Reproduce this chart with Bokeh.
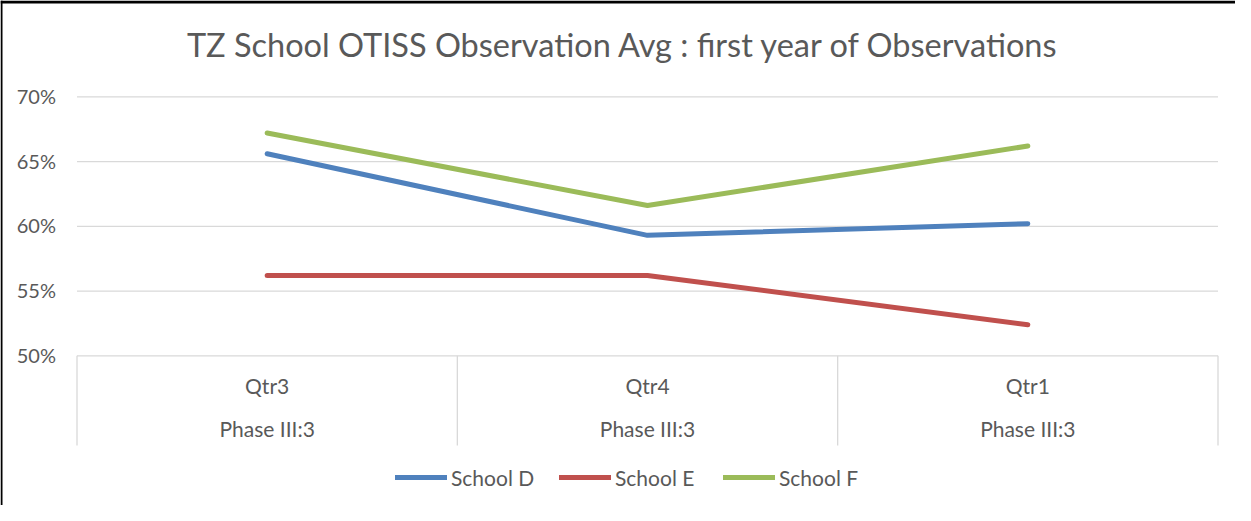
from bokeh.plotting import figure
from bokeh.models import Range1d, Legend, LegendItem
from bokeh.core.properties import value
from bokeh.embed import file_html
from bokeh.resources import INLINE

# ---------------- data ----------------
title_text = "TZ School  OTISS Observation Avg : first year of Observations"
quarters = ["Qtr3", "Qtr4", "Qtr1"]
phases = ["Phase III:3", "Phase III:3", "Phase III:3"]
series_names = ["School D", "School E", "School F"]
school_d = [0.656, 0.593, 0.602]
school_e = [0.562, 0.562, 0.524]
school_f = [0.672, 0.616, 0.662]
y_ticks = [0.50, 0.55, 0.60, 0.65, 0.70]
tick_labels = ["50%", "55%", "60%", "65%", "70%"]

# ---------------- layout (pixels) ----------------
W, H = 1235, 505
PL, PR = 76.5, 1217.5        # plot area left / right in figure px
Y_BASE = 355.3               # figure px (from top) of lowest tick
PX_PER_UNIT_Y = 1295.0       # px per 1.0 of value
n = len(quarters)
sx = (PR - PL) / n
sy = PX_PER_UNIT_Y
x_start = -PL / sx
x_end = n + (W - PR) / sx
y_base = y_ticks[0]
y_start = y_base - (H - Y_BASE) / sy
y_end = y_base + Y_BASE / sy


def X(px):
    return x_start + px / sx


def Y(py):
    return y_end - py / sy


FONT_NAME = "Lato"
FONT = value(FONT_NAME)
TXT = "#595959"
GRID = "#D9D9D9"
colors = ["#4F81BD", "#C0504D", "#9BBB59"]

p = figure(width=W, height=H, output_backend="svg", toolbar_location=None,
           x_axis_location=None, y_axis_location=None,
           x_range=Range1d(x_start, x_end), y_range=Range1d(y_start, y_end),
           min_border=0, outline_line_color=None,
           background_fill_color="white", border_fill_color="white")
p.grid.visible = False

# outer border (left and top)
p.segment(x0=[X(1)], y0=[Y(0)], x1=[X(1)], y1=[Y(H)], line_color="black", line_width=2)
p.segment(x0=[X(0)], y0=[Y(1.5)], x1=[X(W)], y1=[Y(1.5)], line_color="black", line_width=3)

# title
p.text(x=[X(627)], y=[Y(44)], text=[title_text], text_align="center",
       text_baseline="middle", text_font=FONT, text_font_size="32.5px",
       text_color=TXT)

# horizontal gridlines
p.segment(x0=[0] * len(y_ticks), x1=[n] * len(y_ticks), y0=y_ticks, y1=y_ticks,
          line_color=GRID, line_width=1.3)

# y tick labels
p.text(x=[X(55.5)] * len(y_ticks), y=y_ticks, text=tick_labels, text_align="right",
       text_baseline="middle", y_offset=-1, text_font=FONT,
       text_font_size="20px", text_color=TXT)

# category separators
sep_x = list(range(n + 1))
p.segment(x0=sep_x, x1=sep_x, y0=[y_base] * (n + 1), y1=[Y(445)] * (n + 1),
          line_color=GRID, line_width=1.3)

# category labels
centers = [i + 0.5 for i in range(n)]
p.text(x=centers, y=[y_base] * n, text=quarters, text_align="center",
       text_baseline="middle", y_offset=30.0, text_font=FONT,
       text_font_size="21px", text_color=TXT)
p.text(x=centers, y=[y_base] * n, text=phases, text_align="center",
       text_baseline="middle", y_offset=72.5, text_font=FONT,
       text_font_size="21px", text_color=TXT)

# series
items = []
for name, vals, c in zip(series_names, [school_d, school_e, school_f], colors):
    r = p.line(x=centers, y=vals, line_color=c, line_width=5,
               line_cap="round", line_join="round")
    items.append(LegendItem(label=name, renderers=[r]))

legend = Legend(items=items, orientation="horizontal",
                location=(395, 15.3), padding=0, margin=0, spacing=8,
                glyph_width=52, glyph_height=20, label_height=20,
                label_width=100, label_standoff=4,
                label_text_font=FONT_NAME, label_text_font_size="21px",
                label_text_color=TXT, border_line_color=None,
                background_fill_alpha=0)
p.add_layout(legend, "center")

open("out.html", "w").write(file_html(p, INLINE))
